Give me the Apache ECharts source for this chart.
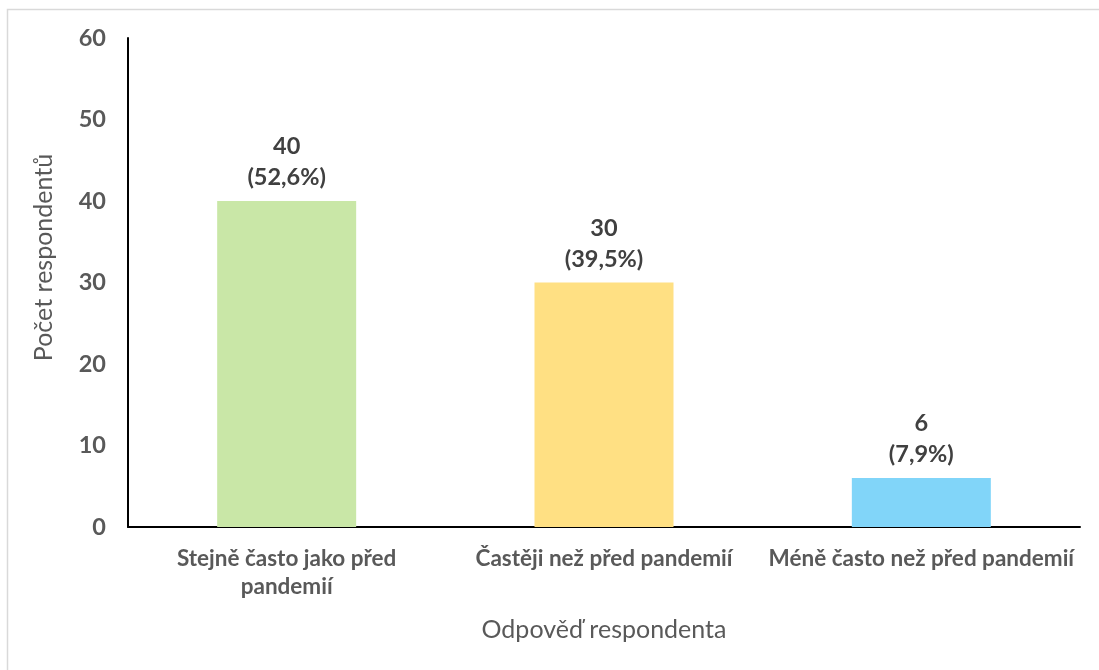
<!DOCTYPE html>
<html>
<head>
<meta charset="utf-8">
<script src="https://cdn.jsdelivr.net/npm/echarts@6/dist/echarts.min.js"></script>
<style>
  html, body { margin: 0; padding: 0; background: #fff; }
  #chart { width: 1099px; height: 670px; }
</style>
</head>
<body>
<div id="chart"></div>
<script>
// Answers and respondent counts
const categories = ['Stejně často jako před\npandemií', 'Častěji než před pandemií', 'Méně často než před pandemií'];
const counts = [40, 30, 6];
const shares = ['52,6', '39,5', '7,9'];
const barColors = ['#C9E7A7', '#FFE083', '#81D5F9'];
const yTicks = { min: 0, max: 60, interval: 10 };

const FONT = 'Lato, "Open Sans", sans-serif';
const chart = echarts.init(document.getElementById('chart'));

chart.setOption({
  backgroundColor: '#fff',
  animation: false,
  graphic: [{
    type: 'rect',
    shape: { x: 7.5, y: 9.5, width: 1200, height: 800 },
    style: { fill: 'none', stroke: '#D9D9D9', lineWidth: 1.5 },
    silent: true
  }],
  grid: { left: 128, right: 19, top: 38, bottom: 143 },
  xAxis: {
    type: 'category',
    data: categories,
    name: 'Odpověď respondenta',
    nameLocation: 'middle',
    nameGap: 90,
    nameTextStyle: { fontFamily: FONT, fontSize: 25, color: '#595959' },
    axisLine: { lineStyle: { color: '#000', width: 2 } },
    axisTick: { show: false },
    axisLabel: {
      fontFamily: FONT, fontSize: 22.5, fontWeight: 'bold', color: '#595959',
      lineHeight: 28, margin: 18, interval: 0
    }
  },
  yAxis: {
    type: 'value',
    min: yTicks.min, max: yTicks.max, interval: yTicks.interval,
    name: 'Počet respondentů',
    nameLocation: 'middle',
    nameRotate: 90,
    nameGap: 72,
    nameTextStyle: { fontFamily: FONT, fontSize: 25, color: '#595959', padding: [0, 0, 0, 50] },
    axisLine: { show: true, lineStyle: { color: '#000', width: 2 } },
    axisTick: { show: false },
    splitLine: { show: false },
    axisLabel: { fontFamily: FONT, fontSize: 23.5, fontWeight: 'bold', color: '#595959', margin: 22 }
  },
  series: [{
    type: 'bar',
    barWidth: 139,
    data: counts.map((v, i) => ({ value: v, itemStyle: { color: barColors[i] } })),
    label: {
      show: true,
      position: 'top',
      distance: 8,
      fontFamily: FONT, fontSize: 23.5, fontWeight: 'bold', color: '#404040',
      lineHeight: 31, align: 'center',
      formatter: p => p.value + '\n(' + shares[p.dataIndex] + '%)'
    }
  }]
});
</script>
</body>
</html>
